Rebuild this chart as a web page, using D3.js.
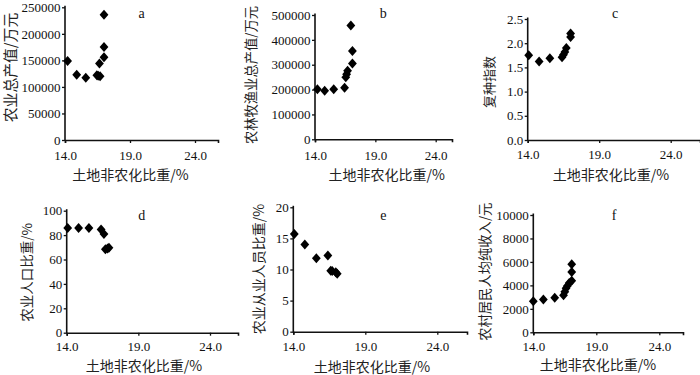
<!DOCTYPE html>
<html><head><meta charset="utf-8">
<script src="https://cdn.jsdelivr.net/npm/d3@7/dist/d3.min.js"></script>
<style>
body{margin:0;background:#fff;}
svg{display:block;}
</style></head>
<body>
<svg id="chart" width="700" height="375"></svg>
<script>
// ---- data ----
const xTitle = "土地非农化比重/%";
const xTicks = [14, 19, 24];

const aX = [14.2, 14.9, 15.6, 16.45, 16.55, 16.7, 16.65, 17.0, 17.0, 17.0];
const aY = [149000, 123000, 117500, 122000, 121000, 120000, 144000, 156000, 175000, 236000];
const aTicks = [0, 50000, 100000, 150000, 200000, 250000];

const bX = [14.2, 14.8, 15.55, 16.45, 16.55, 16.62, 16.7, 17.1, 17.1, 16.97];
const bY = [201000, 195500, 201000, 207500, 250000, 262000, 276000, 305000, 355000, 458000];
const bTicks = [0, 100000, 200000, 300000, 400000, 500000];

const cX = [14.07, 14.8, 15.55, 16.4, 16.5, 16.6, 16.7, 17.0, 17.0];
const cY = [1.75, 1.62, 1.69, 1.71, 1.76, 1.82, 1.9, 2.13, 2.2];
const cTicks = [0, 0.5, 1.0, 1.5, 2.0, 2.5];

const dX = [14.07, 14.83, 15.55, 16.4, 16.6, 16.7, 16.85, 16.95];
const dY = [85.8, 85.8, 85.8, 84.5, 80.8, 68.3, 69.0, 69.7];
const dTicks = [0, 20, 40, 60, 80, 100];

const eX = [14.07, 14.8, 15.6, 16.4, 16.6, 16.7, 16.95, 17.05];
const eY = [15.7, 14.0, 11.8, 12.25, 9.8, 9.75, 9.55, 9.3];
const eTicks = [0, 5, 10, 15, 20];

const fX = [14.0, 14.8, 15.7, 16.4, 16.5, 16.6, 16.7, 16.85, 17.05, 17.05, 17.05];
const fY = [2650, 2800, 2950, 3150, 3450, 3750, 3950, 4200, 4400, 5150, 5800];
const fTicks = [0, 2000, 4000, 6000, 8000, 10000];

// ---- layout (pixels) ----
const panels = [
  {id:"a", xs:aX, ys:aY, yTicks:aTicks, fmt:d3.format("d"), yTitle:"农业总产值/万元",
   x0:65, x24:195, xEnd:218, yBottom:140, yTop:7.3, xlabPad:8, letter:[141.7,13.5],
   yTitlePos:[10.5,67.5], yTitleSize:14.8, xTitlePos:[130.5,174.5], xTitleSize:14},
  {id:"b", xs:bX, ys:bY, yTicks:bTicks, fmt:d3.format("d"), yTitle:"农林牧渔业总产值/万元",
   x0:315, x24:435.7, xEnd:452, yBottom:139.3, yTop:15, xlabPad:8.5, letter:[383.3,13.5],
   yTitlePos:[251,75], yTitleSize:13.3, xTitlePos:[386.7,174.5], xTitleSize:14},
  {id:"c", xs:cX, ys:cY, yTicks:cTicks, fmt:d3.format(".1f"), yTitle:"复种指数",
   x0:527.7, x24:670.7, xEnd:700, yBottom:140, yTop:19, xlabPad:6.5, letter:[615,13.5],
   yTitlePos:[489,82], yTitleSize:13, xTitlePos:[611,174.5], xTitleSize:14},
  {id:"d", xs:dX, ys:dY, yTicks:dTicks, fmt:d3.format("d"), yTitle:"农业人口比重/%",
   x0:66.7, x24:210, xEnd:238, yBottom:332.7, yTop:210.7, xlabPad:6.5, letter:[141.7,215],
   yTitlePos:[27.5,272.5], yTitleSize:13.5, xTitlePos:[144,366], xTitleSize:14},
  {id:"e", xs:eX, ys:eY, yTicks:eTicks, fmt:d3.format("d"), yTitle:"农业从业人员比重/%",
   x0:293.3, x24:437.3, xEnd:467, yBottom:331.7, yTop:207.3, xlabPad:6.8, letter:[383.3,215],
   yTitlePos:[259,269], yTitleSize:14, xTitlePos:[372,367], xTitleSize:14},
  {id:"f", xs:fX, ys:fY, yTicks:fTicks, fmt:d3.format("d"), yTitle:"农村居民人均纯收入/元",
   x0:533.3, x24:659.3, xEnd:683, yBottom:332.3, yTop:215, xlabPad:6.5, letter:[614,215],
   yTitlePos:[485,271.7], yTitleSize:13.3, xTitlePos:[598,365], xTitleSize:14}
];

const svg = d3.select("#chart");
const cjk = '"Noto Sans CJK SC","Noto Sans",sans-serif';
const serif = '"Liberation Serif","Times New Roman",serif';

function diamond(cx, cy){
  const w = 4.4, h = 5.0;
  return `M${cx},${cy-h}L${cx+w},${cy}L${cx},${cy+h}L${cx-w},${cy}Z`;
}

panels.forEach(p => {
  const g = svg.append("g");
  const pxPerUnit = (p.x24 - p.x0) / 10;
  const xMax = 14 + (p.xEnd - p.x0) / pxPerUnit;
  const x = d3.scaleLinear().domain([14, xMax]).range([p.x0, p.xEnd]);
  const yMaxVal = p.yTicks[p.yTicks.length - 1];
  const y = d3.scaleLinear().domain([0, yMaxVal]).range([p.yBottom, p.yTop]);

  const xa = g.append("g").attr("transform", `translate(0,${p.yBottom})`)
    .call(d3.axisBottom(x).tickValues(xTicks).tickFormat(d3.format(".1f"))
      .tickSizeOuter(0).tickSize(3).tickPadding(p.xlabPad));
  const ya = g.append("g").attr("transform", `translate(${p.x0},0)`)
    .call(d3.axisLeft(y).tickValues(p.yTicks).tickFormat(p.fmt)
      .tickSizeOuter(0).tickSize(3).tickPadding(1.5));
  [xa, ya].forEach(a => {
    a.attr("font-size", 13).attr("font-family", serif);
    a.select(".domain").attr("stroke", "#111").attr("stroke-width", 1.6);
    a.selectAll(".tick line").attr("stroke", "#111").attr("stroke-width", 1.3);
    a.selectAll(".tick text").attr("font-size", 13).attr("font-family", serif).attr("fill", "#111");
  });
  ya.select(".domain").attr("d", `M0,${p.yTop - 1.5}V${p.yBottom + 0.8}`);

  g.selectAll("path.pt").data(p.xs.map((v, i) => [v, p.ys[i]])).join("path")
    .attr("class", "pt")
    .attr("d", d => diamond(x(d[0]), y(d[1])))
    .attr("fill", "#000");

  g.append("text").attr("x", p.letter[0]).attr("y", p.letter[1]).attr("dy", "0.35em")
    .attr("text-anchor", "middle").attr("font-family", serif).attr("font-size", 14)
    .attr("fill", "#111").text(p.id);

  g.append("text").attr("x", p.xTitlePos[0]).attr("y", p.xTitlePos[1]).attr("dy", "0.36em")
    .attr("text-anchor", "middle").attr("font-family", cjk).attr("font-size", p.xTitleSize)
    .attr("fill", "#222").text(xTitle);

  g.append("text")
    .attr("transform", `translate(${p.yTitlePos[0]},${p.yTitlePos[1]}) rotate(-90)`)
    .attr("dy", "0.36em").attr("text-anchor", "middle").attr("font-family", cjk)
    .attr("font-size", p.yTitleSize).attr("fill", "#222").text(p.yTitle);
});
</script>
</body></html>
